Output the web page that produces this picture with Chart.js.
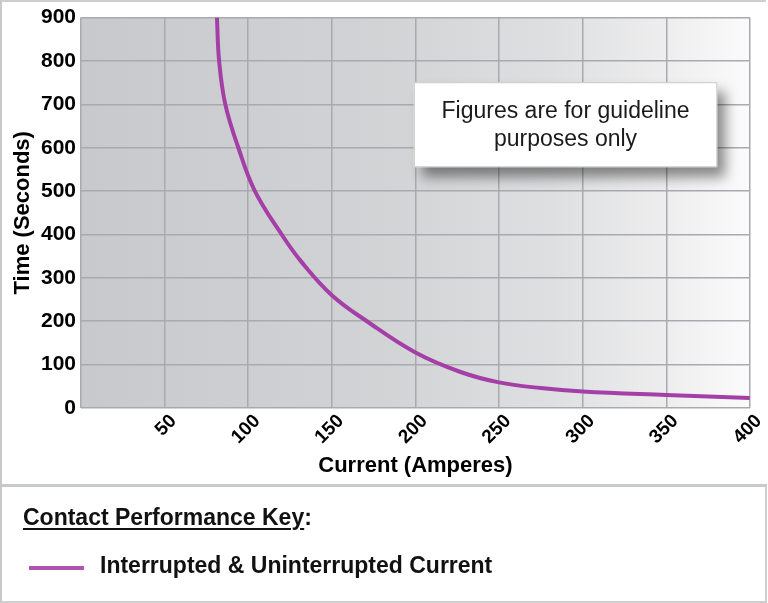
<!DOCTYPE html>
<html>
<head>
<meta charset="utf-8">
<script src="https://cdn.jsdelivr.net/npm/chart.js@4.4.1/dist/chart.umd.min.js"></script>
<style>
  html, body { margin: 0; padding: 0; background: #ffffff; }
  body { width: 768px; height: 603px; overflow: hidden; font-family: "Liberation Sans", Arial, sans-serif; }
  #frame { position: absolute; left: 0; top: 0; width: 766px; height: 484px; border-left: 2px solid #c9c9c9; border-top: 2px solid #cfcfcf; box-sizing: border-box; }
  #chartWrap { position: absolute; left: 0; top: 0; width: 768px; height: 485px; }
  #key { position: absolute; left: 0; top: 484px; width: 767px; height: 119px; box-sizing: border-box;
         border-top: 3px solid #c8c9cb; border-left: 2px solid #c9c9c9; border-right: 2px solid #cfcfcf; border-bottom: 2px solid #cfcfcf; }
  #keyTitle { position: absolute; left: 21px; top: 17px; font-weight: bold; font-size: 23px; color: #111; }
  #keyTitle u { text-decoration-thickness: 2px; text-underline-offset: 3px; }
  #keySwatch { position: absolute; left: 27px; top: 79px; width: 55px; height: 4px; }
  #keyLabel { position: absolute; left: 98px; top: 65px; font-weight: bold; font-size: 23px; color: #111; }
</style>
</head>
<body>
<div id="frame"></div>
<div id="chartWrap"><canvas id="c" width="768" height="485"></canvas></div>
<div id="key">
  <div id="keyTitle"><u>Contact Performance Key</u>:</div>
  <div id="keySwatch"></div>
  <div id="keyLabel"></div>
</div>
<script>
// ---- data ----
const currentAmps = [81.3, 82.6, 86.3, 94.1, 104, 120, 131.6, 150, 171, 200, 227, 250, 275, 300, 350, 400];
const timeSeconds = [900, 800, 700, 600, 500, 400, 338, 260, 200, 128, 83, 59, 46, 38, 30, 23];
const xTicks = [0, 50, 100, 150, 200, 250, 300, 350, 400];
const yTicks = [0, 100, 200, 300, 400, 500, 600, 700, 800, 900];
const seriesLabel = "Interrupted & Uninterrupted Current";
const noteLines = ["Figures are for guideline", "purposes only"];
const noteBox = { xMin: 199, xMax: 380.5, yMin: 555, yMax: 751 };

const lineColor = "#a43fa8";
const fontFamily = "'Liberation Sans', Arial, sans-serif";

document.getElementById('keySwatch').style.background = "#b155b3";
document.getElementById('keyLabel').textContent = seriesLabel;

const points = currentAmps.map((x, i) => ({ x: x, y: timeSeconds[i] }));

const bgPlugin = {
  id: 'bg',
  beforeDraw(chart) {
    const { ctx, chartArea: a } = chart;
    const g = ctx.createLinearGradient(a.left, 0, a.right, 0);
    g.addColorStop(0, '#c8c9cc');
    g.addColorStop(0.45, '#d2d3d5');
    g.addColorStop(0.7, '#dedfe0');
    g.addColorStop(0.88, '#eeeeef');
    g.addColorStop(1, '#fbfbfb');
    ctx.save();
    ctx.fillStyle = g;
    ctx.fillRect(a.left, a.top, a.right - a.left, a.bottom - a.top);
    ctx.restore();
  }
};

const notePlugin = {
  id: 'note',
  afterDraw(chart) {
    const { ctx, scales: { x, y } } = chart;
    const l = x.getPixelForValue(noteBox.xMin), r = x.getPixelForValue(noteBox.xMax);
    const t = y.getPixelForValue(noteBox.yMax), b = y.getPixelForValue(noteBox.yMin);
    ctx.save();
    ctx.shadowColor = 'rgba(0,0,0,0.45)';
    ctx.shadowBlur = 12;
    ctx.shadowOffsetX = 8;
    ctx.shadowOffsetY = 10;
    ctx.fillStyle = '#ffffff';
    ctx.fillRect(l, t, r - l, b - t);
    ctx.shadowColor = 'transparent';
    ctx.strokeStyle = '#c8c8c8';
    ctx.lineWidth = 1;
    ctx.strokeRect(l + 0.5, t + 0.5, r - l - 1, b - t - 1);
    ctx.fillStyle = '#1a1a1a';
    ctx.font = "23px " + fontFamily;
    ctx.textAlign = 'center';
    ctx.textBaseline = 'middle';
    const cx = (l + r) / 2, cy = (t + b) / 2;
    ctx.fillText(noteLines[0], cx, cy - 13);
    ctx.fillText(noteLines[1], cx, cy + 15);
    ctx.restore();
  }
};

new Chart(document.getElementById('c'), {
  type: 'line',
  data: {
    datasets: [{
      label: seriesLabel,
      data: points,
      borderColor: lineColor,
      borderWidth: 4,
      pointRadius: 0,
      fill: false,
      tension: 0.4
    }]
  },
  options: {
    responsive: false,
    animation: false,
    devicePixelRatio: 1,
    layout: { padding: { left: 10, top: 14, right: 18, bottom: 0 } },
    plugins: { legend: { display: false }, tooltip: { enabled: false } },
    scales: {
      x: {
        type: 'linear',
        min: 0, max: 400,
        afterBuildTicks(s) { s.ticks = xTicks.map(v => ({ value: v })); },
        afterFit(s) { s.height = 77; },
        grid: { color: '#a9aaad', lineWidth: 1.5, drawTicks: false },
        border: { display: false },
        ticks: {
          minRotation: 45, maxRotation: 45,
          padding: 2,
          labelOffset: 9,
          color: '#000',
          font: { family: fontFamily, size: 19, weight: 'bold' },
          callback: v => (v === 0 ? '' : String(v))
        },
        title: {
          display: true, text: 'Current (Amperes)', color: '#000',
          font: { family: fontFamily, size: 22, weight: 'bold' },
          padding: { top: 0, bottom: 6 }
        }
      },
      y: {
        min: 0, max: 900,
        afterBuildTicks(s) { s.ticks = yTicks.map(v => ({ value: v })); },
        afterFit(s) { s.width = 71; },
        grid: { color: '#a9aaad', lineWidth: 1.5, drawTicks: false },
        border: { display: false },
        ticks: {
          padding: 5,
          color: '#000',
          font: { family: fontFamily, size: 21, weight: 'bold' }
        },
        title: {
          display: true, text: 'Time (Seconds)', color: '#000',
          font: { family: fontFamily, size: 22, weight: 'bold' },
          padding: { top: 0, bottom: 0 }
        }
      }
    }
  },
  plugins: [bgPlugin, notePlugin]
});
</script>
</body>
</html>
